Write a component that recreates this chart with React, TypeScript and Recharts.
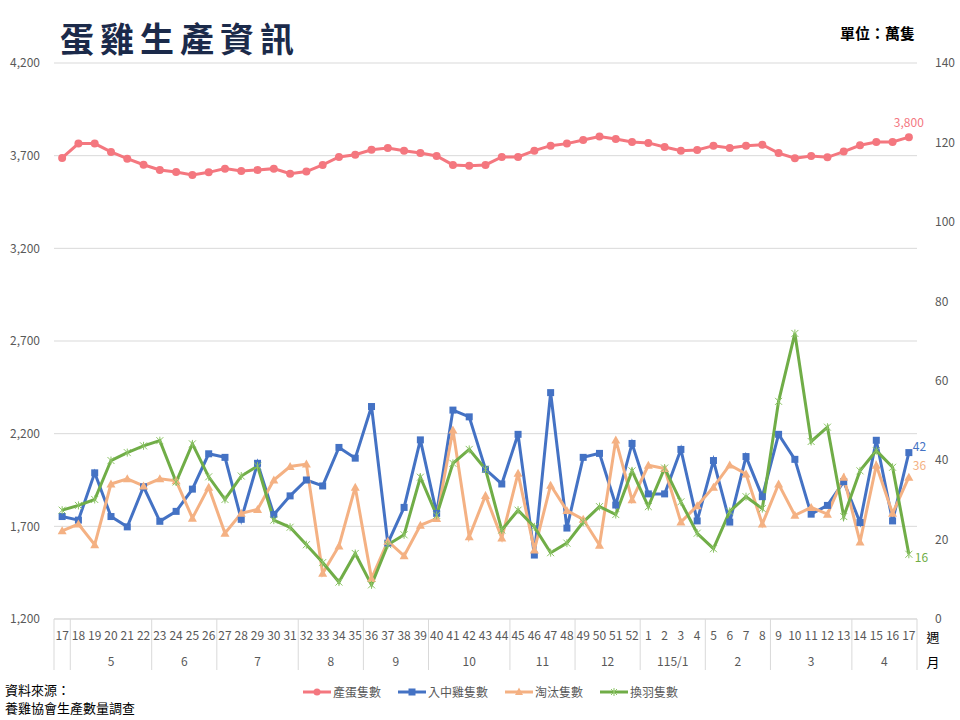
import React from 'react';
import { ComposedChart, Line, XAxis, YAxis, CartesianGrid, LabelList } from 'recharts';

const weeks = [
  17, 18, 19, 20, 21, 22, 23, 24, 25, 26, 27, 28, 29, 30, 31, 32, 33, 34, 35, 36, 37, 38, 39, 40, 41, 42, 43, 44,
  45, 46, 47, 48, 49, 50, 51, 52, 1, 2, 3, 4, 5, 6, 7, 8, 9, 10, 11, 12, 13, 14, 15, 16, 17,
];
const monthLabels = ['', '5', '6', '7', '8', '9', '10', '11', '12', '115/1', '2', '3', '4'];
const monthSpans = [1, 5, 4, 5, 4, 4, 5, 4, 4, 4, 4, 5, 4];

// 產蛋隻數 (left axis)
const eggCount = [
  3688, 3765, 3765, 3720, 3684, 3651, 3623, 3612, 3596, 3610, 3630, 3617, 3623, 3630, 3603, 3614, 3650, 3693,
  3705, 3732, 3741, 3727, 3714, 3698, 3650, 3646, 3650, 3693, 3693, 3727, 3754, 3765, 3785, 3803, 3790, 3774,
  3769, 3747, 3727, 3731, 3754, 3741, 3754, 3759, 3714, 3686, 3698, 3691, 3722, 3756, 3774, 3774, 3800,
];
// 入中雞隻數 (right axis)
const pulletIn = [
  25.8, 24.9, 36.8, 25.8, 23.2, 33.3, 24.6, 27.1, 32.7, 41.6, 40.7, 25.1, 39.2, 26.3, 31.0, 35.0, 33.5, 43.2,
  40.5, 53.5, 19.1, 28.1, 45.1, 26.6, 52.6, 50.9, 37.7, 34.0, 46.5, 16.1, 57.0, 22.9, 40.7, 41.7, 28.7, 44.2,
  31.5, 31.5, 42.7, 24.7, 39.9, 24.4, 40.9, 30.8, 46.5, 40.2, 26.4, 28.6, 34.6, 24.3, 45.0, 24.7, 41.9,
];
// 淘汰隻數 (right axis)
const culled = [
  22.2, 23.9, 18.7, 34.0, 35.3, 33.5, 35.3, 34.8, 25.4, 33.2, 21.6, 26.6, 27.6, 35.0, 38.4, 39.0, 11.5, 18.4,
  33.2, 10.2, 19.6, 15.9, 23.6, 25.3, 47.6, 20.7, 31.1, 20.4, 36.7, 17.4, 33.7, 27.3, 25.1, 18.6, 45.1, 30.0,
  38.7, 37.9, 24.4, 28.5, 33.2, 38.8, 36.5, 23.9, 34.0, 26.1, 28.1, 26.4, 35.7, 19.4, 38.7, 26.6, 35.7,
];
// 換羽隻數 (right axis)
const molting = [
  27.4, 28.6, 30.1, 39.9, 41.9, 43.6, 44.9, 34.5, 44.1, 35.8, 30.1, 36.0, 38.5, 24.9, 23.1, 18.7, 14.2, 9.3,
  16.5, 8.6, 18.7, 21.2, 35.7, 26.1, 39.2, 42.7, 37.7, 22.4, 27.4, 23.2, 16.7, 19.1, 24.4, 28.3, 26.3, 37.3,
  28.3, 38.0, 29.5, 21.6, 17.7, 27.1, 30.8, 27.8, 54.8, 71.9, 44.7, 48.3, 25.8, 37.3, 42.4, 38.2, 16.3,
];

const leftTicks = [1200, 1700, 2200, 2700, 3200, 3700, 4200];
const rightTicks = [0, 20, 40, 60, 80, 100, 120, 140];

const data = weeks.map((w, i) => ({
  key: `k${i}`,
  week: w,
  egg: eggCount[i],
  pullet: pulletIn[i],
  culled: culled[i],
  molting: molting[i],
}));

// index of first category of every month group
const groupStarts: number[] = [];
monthSpans.reduce((acc, n) => {
  groupStarts.push(acc);
  return acc + n;
}, 0);

const C = {
  egg: '#f4777f',
  pullet: '#4472c4',
  culled: '#f4b183',
  molting: '#70ad47',
  axis: '#595959',
  grid: '#d9d9d9',
};
const FONT = '"Noto Sans CJK TC", "Noto Sans", sans-serif';
const LAST = weeks.length - 1;
const WEEK_H = 26;
const MONTH_H = 30;

const WeekTick = (props: any) => {
  const { x, y, payload, index } = props;
  const off = payload?.offset ?? 8.14;
  return (
    <g>
      <text x={x} y={y + 21} textAnchor="middle" fontSize={12} fill={C.axis} fontFamily={FONT}>
        {weeks[index]}
      </text>
      {index === LAST && (
        <text x={x + off + 16} y={y + 23} textAnchor="middle" fontSize={13} fill="#000" fontFamily={FONT}>
          週
        </text>
      )}
    </g>
  );
};

const MonthTick = (props: any) => {
  const { x, y, payload, index } = props;
  const off = payload?.offset ?? 8.14;
  const g = groupStarts.indexOf(index);
  return (
    <g>
      {g >= 0 && (
        <>
          <line x1={x - off} x2={x - off} y1={y - WEEK_H} y2={y + 25} stroke={C.grid} />
          <text
            x={x - off + monthSpans[g] * off}
            y={y + 21}
            textAnchor="middle"
            fontSize={12}
            fill={C.axis}
            fontFamily={FONT}
          >
            {monthLabels[g]}
          </text>
        </>
      )}
      {index === LAST && (
        <>
          <line x1={x + off} x2={x + off} y1={y - WEEK_H} y2={y + 25} stroke={C.grid} />
          <text x={x + off + 16} y={y + 22} textAnchor="middle" fontSize={13} fill="#000" fontFamily={FONT}>
            月
          </text>
        </>
      )}
    </g>
  );
};

const EggDot = (p: any) => <circle key={p.index} cx={p.cx} cy={p.cy} r={4} fill={C.egg} />;
const SquareDot = (p: any) => (
  <rect key={p.index} x={p.cx - 3.5} y={p.cy - 3.5} width={7} height={7} fill={C.pullet} />
);
const TriDot = (p: any) => (
  <path key={p.index} d={`M${p.cx},${p.cy - 4.5} L${p.cx + 4.5},${p.cy + 3.5} L${p.cx - 4.5},${p.cy + 3.5} Z`} fill={C.culled} />
);
const StarDot = (p: any) => (
  <path
    key={p.index}
    d={`M${p.cx - 3.5},${p.cy - 3.5} L${p.cx + 3.5},${p.cy + 3.5} M${p.cx + 3.5},${p.cy - 3.5} L${p.cx - 3.5},${p.cy + 3.5} M${p.cx},${p.cy - 4} L${p.cx},${p.cy + 4}`}
    stroke="#8cc466"
    strokeWidth={1}
    fill="none"
  />
);

const lastLabel = (color: string, dx: number, dy: number, anchor: string = 'start') => (p: any) => {
  if (p.index !== LAST) return null;
  return (
    <text
      x={p.x + dx}
      y={p.y + dy}
      textAnchor={anchor}
      dominantBaseline="middle"
      fontSize={12}
      fill={color}
      fontFamily={FONT}
    >
      {Math.round(Number(p.value)).toLocaleString('en-US')}
    </text>
  );
};

const legendItems = [
  { name: '產蛋隻數', color: C.egg, shape: 'circle' },
  { name: '入中雞隻數', color: C.pullet, shape: 'square' },
  { name: '淘汰隻數', color: C.culled, shape: 'tri' },
  { name: '換羽隻數', color: C.molting, shape: 'star' },
];

const LegendIcon = ({ color, shape }: { color: string; shape: string }) => (
  <svg width={28} height={12} style={{ marginRight: 2 }}>
    <line x1={0} x2={28} y1={6} y2={6} stroke={color} strokeWidth={3} />
    {shape === 'circle' && <circle cx={14} cy={6} r={3.5} fill={color} />}
    {shape === 'square' && <rect x={10.5} y={2.5} width={7} height={7} fill={color} />}
    {shape === 'tri' && <path d="M14,1.5 L18,9 L10,9 Z" fill={color} />}
    {shape === 'star' && (
      <path d="M11,3 L17,9 M17,3 L11,9 M14,2 L14,10" stroke="#8cc466" strokeWidth={1} fill="none" />
    )}
  </svg>
);

export default function App() {
  return (
    <div
      style={{
        position: 'absolute',
        left: 0,
        top: 0,
        width: 960,
        height: 720,
        background: '#fff',
        fontFamily: FONT,
        overflow: 'hidden',
      }}
    >
      <div
        style={{
          position: 'absolute',
          left: 60,
          top: 14,
          fontSize: 34,
          fontWeight: 700,
          letterSpacing: 6,
          color: '#1b2a4a',
          lineHeight: '48px',
          whiteSpace: 'nowrap',
        }}
      >
        蛋雞生產資訊
      </div>
      <div
        style={{
          position: 'absolute',
          left: 840,
          top: 22,
          fontSize: 15,
          fontWeight: 600,
          color: '#000',
          lineHeight: '22px',
          whiteSpace: 'nowrap',
        }}
      >
        單位：萬隻
      </div>

      <div style={{ position: 'absolute', left: 0, top: 0 }}>
        <ComposedChart
          width={960}
          height={720}
          data={data}
          margin={{ top: 63, right: 0, bottom: 101 - WEEK_H - MONTH_H, left: 0 }}
        >
          <CartesianGrid xAxisId="a" yAxisId="left" vertical={false} stroke={C.grid} />
          <XAxis
            xAxisId="a"
            dataKey="key"
            scale="band"
            interval={0}
            height={WEEK_H}
            tickSize={0}
            tickMargin={0}
            tickLine={false}
            axisLine={{ stroke: C.grid }}
            tick={<WeekTick />}
          />
          <XAxis
            xAxisId="b"
            dataKey="key"
            scale="band"
            interval={0}
            height={MONTH_H}
            tickSize={0}
            tickMargin={0}
            tickLine={false}
            axisLine={false}
            tick={<MonthTick />}
          />
          <YAxis
            yAxisId="left"
            width={54}
            domain={[1200, 4200]}
            ticks={leftTicks}
            interval={0}
            axisLine={false}
            tickLine={false}
            tickMargin={8}
            tickFormatter={(v) => v.toLocaleString('en-US')}
            tick={{ fontSize: 12, fill: C.axis, fontFamily: FONT }}
          />
          <YAxis
            yAxisId="right"
            orientation="right"
            width={43}
            domain={[0, 140]}
            ticks={rightTicks}
            interval={0}
            axisLine={false}
            tickLine={false}
            tickMargin={12}
            tick={{ fontSize: 12, fill: C.axis, fontFamily: FONT }}
          />
          <Line
            xAxisId="a"
            yAxisId="left"
            dataKey="egg"
            stroke={C.egg}
            strokeWidth={3}
            dot={<EggDot />}
            isAnimationActive={false}
          >
            <LabelList dataKey="egg" content={lastLabel(C.egg, 0, -13, 'middle')} />
          </Line>
          <Line
            xAxisId="a"
            yAxisId="right"
            dataKey="pullet"
            stroke={C.pullet}
            strokeWidth={3}
            dot={<SquareDot />}
            isAnimationActive={false}
          >
            <LabelList dataKey="pullet" content={lastLabel(C.pullet, 4, -5)} />
          </Line>
          <Line
            xAxisId="a"
            yAxisId="right"
            dataKey="culled"
            stroke={C.culled}
            strokeWidth={3}
            dot={<TriDot />}
            isAnimationActive={false}
          >
            <LabelList dataKey="culled" content={lastLabel(C.culled, 4, -10)} />
          </Line>
          <Line
            xAxisId="a"
            yAxisId="right"
            dataKey="molting"
            stroke={C.molting}
            strokeWidth={3}
            dot={<StarDot />}
            isAnimationActive={false}
          >
            <LabelList dataKey="molting" content={lastLabel(C.molting, 6, 4)} />
          </Line>
        </ComposedChart>
      </div>

      <div
        style={{
          position: 'absolute',
          left: 303,
          top: 683,
          display: 'flex',
          alignItems: 'center',
          gap: 17,
          fontSize: 12,
          color: C.axis,
          whiteSpace: 'nowrap',
        }}
      >
        {legendItems.map((it) => (
          <div key={it.name} style={{ display: 'flex', alignItems: 'center' }}>
            <LegendIcon color={it.color} shape={it.shape} />
            <span>{it.name}</span>
          </div>
        ))}
      </div>

      <div
        style={{
          position: 'absolute',
          left: 5,
          top: 681,
          fontSize: 13,
          lineHeight: '18px',
          color: '#000',
          whiteSpace: 'nowrap',
        }}
      >
        資料來源：
        <br />
        養雞協會生產數量調查
      </div>
    </div>
  );
}
